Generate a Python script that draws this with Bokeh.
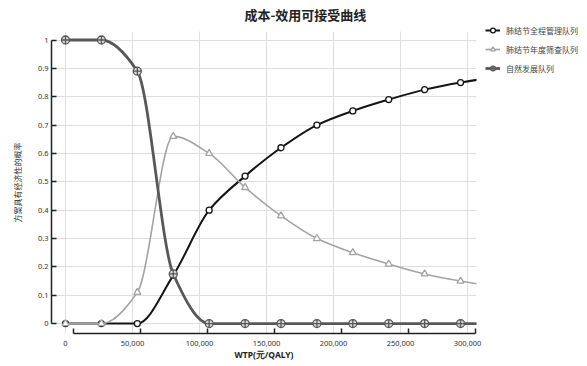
from bokeh.plotting import figure
from bokeh.models import (Range1d, LinearAxis, FixedTicker, NumeralTickFormatter,
                          Legend, LegendItem, Grid, ColumnDataSource, Title)
from bokeh.embed import file_html
from bokeh.resources import INLINE

# ---------------- data ----------------
wtp = [0, 26800, 53600, 80400, 107200, 134000, 160800, 187600,
       214400, 241200, 268000, 294800, 321600]
full_mgmt = [0, 0, 0, 0.17, 0.40, 0.52, 0.62, 0.70, 0.75, 0.79, 0.825, 0.85, 0.87]
annual_screen = [0, 0, 0.11, 0.66, 0.60, 0.48, 0.38, 0.30, 0.25, 0.21, 0.175, 0.15, 0.13]
natural = [1, 1, 0.89, 0.175, 0, 0, 0, 0, 0, 0, 0, 0, 0]
series_names = ["肺结节全程管理队列", "肺结节年度筛查队列", "自然发展队列"]
x_ticks = [0, 50000, 100000, 150000, 200000, 250000, 300000]
y_ticks = [0, 0.1, 0.2, 0.3, 0.4, 0.5, 0.6, 0.7, 0.8, 0.9, 1]
title_text = "成本-效用可接受曲线"
x_label = "WTP(元/QALY)"
y_label = "方案具有经济性的概率"


def bezier_source(x, y):
    """Monotone cubic (smoothed line) segments as Bezier control points."""
    n = len(x)
    d = [(y[i + 1] - y[i]) / (x[i + 1] - x[i]) for i in range(n - 1)]
    m = [0.0] * n
    m[0] = d[0]
    m[-1] = d[-1]
    for i in range(1, n - 1):
        if d[i - 1] * d[i] <= 0:
            m[i] = 0.0
        else:
            m[i] = 2 * d[i - 1] * d[i] / (d[i - 1] + d[i])
    x0, y0, x1, y1, cx0, cy0, cx1, cy1 = [], [], [], [], [], [], [], []
    for i in range(n - 1):
        h = x[i + 1] - x[i]
        x0.append(x[i]); y0.append(y[i])
        x1.append(x[i + 1]); y1.append(y[i + 1])
        cx0.append(x[i] + h / 3); cy0.append(y[i] + m[i] * h / 3)
        cx1.append(x[i + 1] - h / 3); cy1.append(y[i + 1] - m[i + 1] * h / 3)
    return ColumnDataSource(dict(x0=x0, y0=y0, x1=x1, y1=y1,
                                 cx0=cx0, cy0=cy0, cx1=cx1, cy1=cy1))


TICK_FONT = "Noto Sans"
CJK = "Noto Sans CJK SC"

p = figure(frame_width=425, frame_height=302,
           x_range=Range1d(-10450, 306700), y_range=Range1d(-0.035, 1.03),
           x_axis_location=None, y_axis_location=None,
           output_backend="svg", toolbar_location=None,
           min_border_left=0, min_border_right=0,
           min_border_top=0, min_border_bottom=0)
p.outline_line_color = None
p.background_fill_color = "white"
p.border_fill_color = "white"

# grids
p.add_layout(Grid(dimension=0, ticker=FixedTicker(ticks=x_ticks),
                  grid_line_color="#dedede", grid_line_width=1))
p.add_layout(Grid(dimension=1, ticker=FixedTicker(ticks=y_ticks),
                  grid_line_color="#dedede", grid_line_width=1))

# y axis
yax = LinearAxis(ticker=FixedTicker(ticks=y_ticks),
                 formatter=NumeralTickFormatter(format="0.[0]"),
                 bounds=(0, 1), major_tick_in=5, major_tick_out=0,
                 minor_tick_line_color=None,
                 axis_line_color="#222222", axis_line_width=1.5,
                 major_tick_line_color="#222222", major_tick_line_width=1.5,
                 major_label_text_font=TICK_FONT, major_label_text_font_size="7.5px",
                 major_label_text_color="#333333", major_label_standoff=3,
                 axis_label=y_label, axis_label_text_font=CJK,
                 axis_label_text_font_size="8px", axis_label_text_font_style="normal",
                 axis_label_text_color="#333333", axis_label_standoff=12)
p.add_layout(yax, "left")
# blank left margin (spacing only)
p.add_layout(Title(text=" ", text_font_size="1px", standoff=5), "left")

# x axis line + ticks (drawn slightly shifted as in the original)
p.extra_x_ranges = {"shift": Range1d(-10450 - 5970, 306700 - 5970)}
xax_line = LinearAxis(x_range_name="shift", ticker=FixedTicker(ticks=x_ticks),
                      bounds=(0, 300000), major_tick_in=5, major_tick_out=0,
                      minor_tick_line_color=None,
                      axis_line_color="#222222", axis_line_width=1.5,
                      major_tick_line_color="#222222", major_tick_line_width=1.5,
                      major_label_text_font_size="1px", major_label_text_alpha=0,
                      major_label_standoff=0)
p.add_layout(xax_line, "below")

# x labels
xax_lab = LinearAxis(ticker=FixedTicker(ticks=x_ticks),
                     formatter=NumeralTickFormatter(format="0,0"),
                     axis_line_color=None, major_tick_line_color=None,
                     minor_tick_line_color=None,
                     major_label_text_font=TICK_FONT, major_label_text_font_size="7.5px",
                     major_label_text_color="#333333", major_label_standoff=1,
                     axis_label=x_label, axis_label_text_font=TICK_FONT,
                     axis_label_text_font_size="8.5px", axis_label_text_font_style="bold",
                     axis_label_text_color="#222222", axis_label_standoff=0)
p.add_layout(xax_lab, "below")

# title
p.title.text = title_text
p.title.align = "left"
p.title.offset = 193
p.title.text_font = CJK
p.title.text_font_size = "13px"
p.title.text_font_style = "bold"
p.title.text_color = "#222222"
p.title.standoff = 9.5
p.title.vertical_align = "top"

# series
styles = [
    dict(values=full_mgmt, color="#151515", width=2.0, marker="circle", size=6,
         mline="#151515", mfill="white"),
    dict(values=annual_screen, color="#a3a3a3", width=1.6, marker="triangle", size=7,
         mline="#a3a3a3", mfill="white"),
    dict(values=natural, color="#585858", width=2.8, marker="circle_cross", size=8,
         mline="#585858", mfill="#d8d8d8"),
]
items = []
for name, st in zip(series_names, styles):
    src = bezier_source(wtp, st["values"])
    rb = p.bezier(x0="x0", y0="y0", x1="x1", y1="y1", cx0="cx0", cy0="cy0",
                  cx1="cx1", cy1="cy1", source=src,
                  line_color=st["color"], line_width=st["width"])
    rs = p.scatter(wtp, st["values"], marker=st["marker"], size=st["size"],
                   line_color=st["mline"], fill_color=st["mfill"], line_width=1.3)
    items.append((name, rb, rs))

legend = Legend(items=[LegendItem(label=n, renderers=[rb, rs]) for n, rb, rs in items],
                location=(9, 259), orientation="vertical",
                glyph_width=15, glyph_height=12, spacing=7, padding=0, margin=0,
                label_standoff=6, label_text_font=CJK, label_text_font_size="8px",
                label_text_color="#444444", label_height=12,
                border_line_color=None, background_fill_alpha=0)
p.add_layout(legend, "right")

open("out.html", "w").write(file_html(p, INLINE))
